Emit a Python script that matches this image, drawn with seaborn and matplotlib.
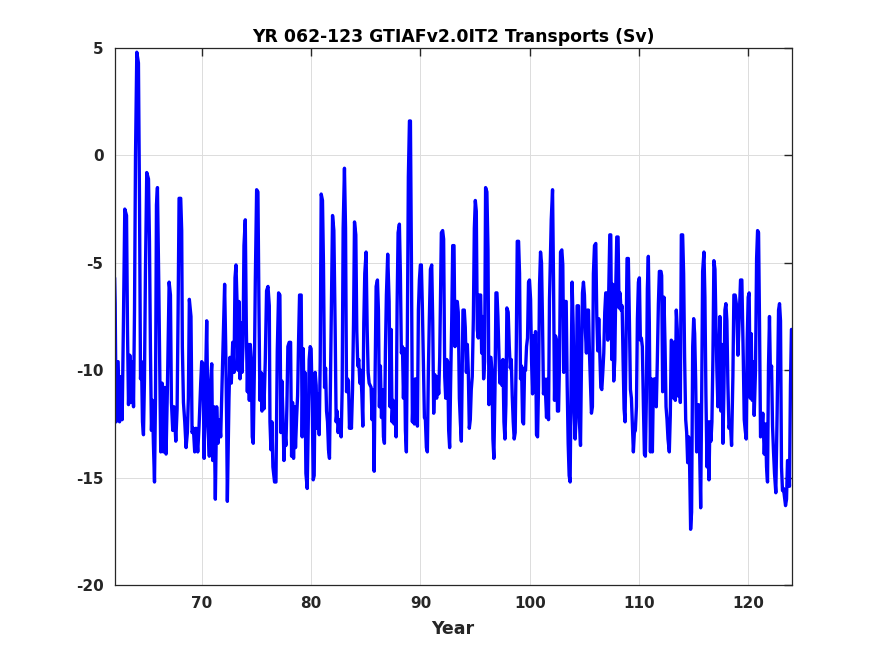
import numpy as np
import pandas as pd
import matplotlib
matplotlib.use("Agg")
import matplotlib.pyplot as plt
import seaborn as sns

# transport series, split into roughly 10-year chunks
yr_62_71 = [62.0, 62.05, 62.14, 62.32, 62.45, 62.57, 62.69, 62.81, 62.93, 63.09, 63.18, 63.27,
            63.39, 63.54, 63.63, 63.73, 63.82, 63.91, 64.03, 64.18, 64.28, 64.37, 64.46, 64.55,
            64.64, 64.73, 64.82, 64.94, 65.10, 65.19, 65.28, 65.37, 65.46, 65.55, 65.65, 65.74,
            65.83, 65.92, 66.04, 66.13, 66.22, 66.35, 66.47, 66.59, 66.71, 66.83, 66.99, 67.11,
            67.20, 67.32, 67.44, 67.60, 67.72, 67.81, 67.90, 68.05, 68.14, 68.20, 68.30, 68.42,
            68.54, 68.66, 68.75, 68.84, 68.99, 69.09, 69.21, 69.33, 69.45, 69.61, 69.73, 69.88,
            69.97, 70.09, 70.19, 70.31, 70.43, 70.55, 70.67, 70.77, 70.89, 70.98, 71.10, 71.22,
            71.34, 71.46, 71.59, 71.71]
sv_62_71 = [-5.7, -6.9, -12.4, -9.6, -12.4, -10.3, -12.3, -7.6, -2.5, -2.8, -8.2, -11.6,
            -9.3, -11.5, -9.6, -11.7, -7.2, -0.1, 4.8, 4.3, -2.3, -10.4, -9.6, -12.4,
            -13.0, -10.5, -5.5, -0.8, -1.1, -4.0, -9.1, -12.8, -11.4, -13.4, -15.2, -11.4,
            -2.3, -1.5, -5.9, -10.0, -13.8, -10.6, -13.8, -10.8, -13.9, -10.9, -5.9, -6.5,
            -11.5, -12.8, -11.7, -13.3, -11.8, -7.3, -2.0, -2.0, -3.5, -8.9, -11.5, -12.4,
            -13.6, -12.9, -11.3, -6.7, -7.5, -12.9, -12.7, -13.8, -12.7, -13.8, -12.6, -10.6,
            -9.6, -9.7, -14.1, -10.9, -7.7, -12.6, -14.0, -10.7, -9.7, -14.2, -11.7, -16.0,
            -11.7, -13.4, -12.3, -13.1]

yr_72_81 = [72.07, 72.17, 72.26, 72.32, 72.47, 72.56, 72.68, 72.81, 72.93, 73.02, 73.11, 73.20,
            73.29, 73.38, 73.48, 73.57, 73.66, 73.75, 73.84, 73.96, 74.06, 74.15, 74.24, 74.33,
            74.42, 74.51, 74.60, 74.69, 74.79, 74.88, 75.00, 75.12, 75.21, 75.30, 75.40, 75.49,
            75.58, 75.67, 75.79, 75.91, 76.04, 76.16, 76.22, 76.31, 76.40, 76.49, 76.64, 76.77,
            76.89, 77.01, 77.13, 77.22, 77.31, 77.41, 77.50, 77.59, 77.68, 77.77, 77.86, 77.98,
            78.11, 78.20, 78.29, 78.38, 78.47, 78.56, 78.66, 78.75, 78.84, 78.93, 79.08, 79.17,
            79.27, 79.36, 79.42, 79.51, 79.63, 79.72, 79.81, 79.90, 79.99, 80.09, 80.18, 80.27,
            80.36, 80.45, 80.54, 80.64, 80.73, 80.82, 80.91, 81.03, 81.12, 81.22, 81.31, 81.40,
            81.49, 81.58, 81.67, 81.76]
sv_72_81 = [-6.0, -8.9, -12.6, -16.1, -11.3, -9.4, -10.6, -8.7, -10.1, -5.7, -5.1, -6.7,
            -10.0, -6.8, -10.4, -7.8, -10.1, -8.9, -4.2, -3.0, -8.1, -11.0, -8.8, -11.4,
            -8.8, -9.5, -13.1, -13.4, -10.1, -5.8, -1.6, -1.7, -6.9, -11.4, -10.1, -11.9,
            -10.2, -11.8, -9.6, -6.3, -6.1, -7.0, -12.4, -13.7, -12.4, -14.5, -15.2, -15.2,
            -9.1, -6.4, -6.5, -12.9, -10.5, -12.1, -14.2, -12.9, -13.5, -11.7, -8.9, -8.7,
            -8.7, -14.0, -11.5, -14.1, -11.7, -13.6, -12.2, -11.2, -8.6, -6.5, -6.5, -13.1,
            -9.0, -12.7, -10.1, -14.8, -15.5, -12.7, -9.5, -8.9, -9.0, -11.5, -15.1, -14.9,
            -10.1, -10.7, -12.7, -11.1, -13.0, -9.6, -1.8, -2.1, -5.1, -10.8, -9.9, -11.9,
            -12.4, -13.7, -14.1, -10.4]

yr_82_91 = [81.95, 82.07, 82.19, 82.28, 82.37, 82.46, 82.56, 82.65, 82.74, 82.83, 82.92, 83.04,
            83.14, 83.23, 83.32, 83.41, 83.50, 83.59, 83.68, 83.78, 83.87, 83.96, 84.08, 84.17,
            84.26, 84.35, 84.45, 84.54, 84.63, 84.72, 84.81, 84.90, 85.02, 85.12, 85.21, 85.30,
            85.39, 85.48, 85.57, 85.66, 85.76, 85.85, 85.94, 86.06, 86.15, 86.24, 86.33, 86.43,
            86.52, 86.61, 86.70, 86.79, 86.88, 87.00, 87.13, 87.22, 87.31, 87.40, 87.49, 87.58,
            87.68, 87.77, 87.86, 87.95, 88.07, 88.16, 88.25, 88.35, 88.44, 88.53, 88.62, 88.71,
            88.80, 88.89, 88.99, 89.08, 89.17, 89.26, 89.35, 89.44, 89.53, 89.62, 89.72, 89.81,
            89.90, 89.99, 90.08, 90.17, 90.27, 90.36, 90.45, 90.54, 90.63, 90.72, 90.81, 90.91,
            91.03, 91.12, 91.21, 91.30, 91.39, 91.48, 91.57, 91.67, 91.76]
sv_82_91 = [-2.8, -3.5, -8.1, -12.4, -11.9, -12.9, -12.3, -12.7, -13.1, -10.9, -3.4, -0.6,
            -3.4, -11.0, -10.4, -10.5, -12.7, -11.9, -12.7, -10.9, -7.8, -3.1, -3.7, -8.2,
            -9.8, -9.5, -10.6, -10.0, -11.1, -12.6, -7.8, -5.5, -4.5, -8.1, -10.1, -10.6,
            -10.7, -10.8, -12.3, -10.9, -14.7, -10.1, -6.1, -5.8, -7.2, -11.7, -9.8, -12.2,
            -10.9, -13.1, -13.4, -9.1, -6.5, -4.6, -6.8, -11.7, -8.1, -12.4, -11.4, -12.5,
            -11.5, -13.1, -7.0, -3.6, -3.2, -5.5, -9.2, -8.9, -11.3, -9.0, -12.8, -13.8,
            -8.1, -1.0, 1.6, 1.6, -4.8, -12.4, -10.9, -12.5, -10.4, -11.5, -12.6, -7.2,
            -5.8, -5.1, -5.1, -7.0, -9.7, -12.2, -12.3, -13.6, -13.8, -10.1, -7.6, -5.3,
            -5.1, -7.7, -12.0, -10.2, -10.3, -11.3, -10.3, -11.1, -9.4]

yr_92_101 = [91.91, 92.03, 92.12, 92.22, 92.31, 92.40, 92.49, 92.58, 92.67, 92.76, 92.86, 92.95,
             93.07, 93.16, 93.25, 93.37, 93.46, 93.56, 93.65, 93.74, 93.83, 93.89, 94.01, 94.10,
             94.20, 94.29, 94.38, 94.47, 94.56, 94.65, 94.74, 94.84, 94.93, 95.02, 95.11, 95.20,
             95.29, 95.38, 95.51, 95.60, 95.69, 95.78, 95.87, 95.96, 96.08, 96.18, 96.27, 96.36,
             96.45, 96.54, 96.63, 96.72, 96.82, 96.91, 97.00, 97.09, 97.18, 97.27, 97.36, 97.46,
             97.55, 97.64, 97.73, 97.82, 97.91, 98.03, 98.13, 98.22, 98.31, 98.40, 98.49, 98.58,
             98.67, 98.77, 98.86, 98.98, 99.07, 99.16, 99.25, 99.35, 99.44, 99.53, 99.62, 99.71,
             99.80, 99.89, 99.98, 100.08, 100.17, 100.26, 100.35, 100.44, 100.53, 100.62, 100.72,
             100.81, 100.90, 100.99, 101.08, 101.17, 101.26, 101.36, 101.45, 101.54, 101.63,
             101.72, 101.81]
sv_92_101 = [-3.6, -3.5, -3.9, -10.3, -11.3, -9.5, -9.6, -12.8, -13.6, -10.6, -7.7, -4.2,
             -4.2, -8.9, -6.8, -6.8, -7.3, -11.3, -12.4, -13.3, -9.6, -7.2, -7.2, -8.0,
             -10.1, -8.8, -10.1, -12.7, -12.3, -10.9, -10.3, -7.6, -3.4, -2.1, -2.6, -8.1,
             -8.5, -6.5, -6.5, -9.2, -7.5, -10.4, -9.6, -1.5, -1.7, -4.4, -11.6, -9.4,
             -9.4, -10.0, -13.2, -14.1, -10.9, -6.4, -6.4, -7.5, -9.2, -10.6, -9.6, -10.7,
             -9.5, -12.4, -13.2, -11.6, -7.1, -7.3, -8.9, -9.9, -9.5, -11.2, -12.4, -13.2,
             -12.9, -8.9, -4.0, -4.0, -5.5, -10.4, -9.8, -12.4, -12.5, -9.9, -10.0, -8.9,
             -8.5, -5.9, -5.8, -6.7, -9.6, -11.1, -8.4, -11.0, -8.2, -13.0, -13.1,
             -10.7, -6.0, -4.5, -5.0, -7.7, -11.1, -10.4, -11.1, -12.2, -10.4,
             -12.3, -6.7]

yr_102_111 = [101.97, 102.09, 102.18, 102.27, 102.36, 102.45, 102.54, 102.64, 102.73, 102.82,
              102.94, 103.03, 103.12, 103.21, 103.34, 103.43, 103.52, 103.61, 103.70, 103.79,
              103.88, 103.98, 104.07, 104.16, 104.25, 104.34, 104.46, 104.55, 104.65, 104.74,
              104.83, 104.92, 105.01, 105.10, 105.19, 105.29, 105.38, 105.47, 105.56, 105.65,
              105.74, 105.83, 105.93, 106.05, 106.14, 106.23, 106.32, 106.41, 106.51, 106.60,
              106.69, 106.78, 106.87, 106.96, 107.05, 107.15, 107.24, 107.33, 107.42, 107.51,
              107.60, 107.69, 107.79, 107.88, 107.97, 108.09, 108.18, 108.27, 108.36, 108.46,
              108.55, 108.64, 108.73, 108.82, 108.91, 109.03, 109.13, 109.22, 109.31, 109.40,
              109.49, 109.58, 109.67, 109.77, 109.86, 109.95, 110.04, 110.13, 110.22, 110.31,
              110.41, 110.50, 110.59, 110.68, 110.77, 110.86, 110.95, 111.05, 111.14, 111.23,
              111.32, 111.41, 111.50, 111.59, 111.68, 111.78, 111.87]
sv_102_111 = [-3.0, -1.6, -5.8, -11.4, -8.4, -8.6, -11.9, -11.9, -9.6, -4.5,
              -4.4, -5.1, -10.1, -6.8, -6.8, -10.7, -13.4, -14.9, -15.2, -10.7,
              -5.9, -7.9, -12.0, -13.2, -12.1, -7.0, -7.0, -12.4, -13.5, -9.6,
              -6.4, -5.9, -6.5, -8.2, -9.2, -7.2, -7.2, -9.2, -10.6, -12.0,
              -11.7, -5.5, -4.2, -4.1, -7.5, -9.1, -7.6, -9.1, -10.8, -10.9,
              -10.1, -9.2, -7.3, -6.4, -6.4, -8.6, -6.1, -3.7, -3.7, -9.5,
              -6.0, -10.5, -9.5, -6.1, -3.8, -3.8, -7.1, -6.4, -7.2, -7.0,
              -9.6, -11.8, -12.4, -8.7, -4.8, -4.8, -7.8, -10.9, -11.3, -12.6,
              -13.8, -12.9, -12.8, -11.7, -7.6, -5.9, -5.7, -8.6, -8.5, -8.9,
              -11.7, -13.9, -14.0, -11.3, -6.2, -4.7, -7.8, -13.8, -10.4, -13.8,
              -10.7, -10.4, -10.4, -11.7, -9.6, -6.9, -5.4]

yr_112_124 = [112.02, 112.08, 112.17, 112.29, 112.39, 112.48, 112.57, 112.66, 112.78, 112.87,
              112.96, 113.09, 113.18, 113.27, 113.33, 113.42, 113.51, 113.60, 113.70, 113.79,
              113.88, 114.00, 114.09, 114.18, 114.28, 114.37, 114.46, 114.55, 114.64, 114.73,
              114.82, 114.92, 115.01, 115.10, 115.19, 115.28, 115.37, 115.46, 115.56, 115.65,
              115.74, 115.83, 115.95, 116.04, 116.13, 116.23, 116.32, 116.41, 116.50, 116.59,
              116.68, 116.77, 116.86, 116.96, 117.05, 117.14, 117.23, 117.32, 117.41, 117.50,
              117.60, 117.69, 117.78, 117.87, 117.96, 118.05, 118.14, 118.24, 118.36, 118.48,
              118.60, 118.69, 118.81, 118.94, 119.06, 119.30, 119.42, 119.55, 119.64, 119.73,
              119.82, 119.91, 120.00, 120.09, 120.19, 120.28, 120.37, 120.46, 120.55, 120.67,
              120.77, 120.86, 120.95, 121.04, 121.13, 121.22, 121.34, 121.47, 121.59, 121.68,
              121.77, 121.86, 121.95, 122.04, 122.14, 122.23, 122.32, 122.41, 122.53, 122.65,
              122.78, 122.87, 122.96, 123.05, 123.14, 123.23, 123.32, 123.42, 123.51, 123.60,
              123.69, 123.78, 123.87, 123.96]
sv_112_124 = [-5.4, -5.6, -11.0, -6.6, -8.9, -11.7, -12.3, -13.2, -13.8, -12.1,
              -8.6, -8.7, -11.3, -8.7, -11.4, -7.2, -8.1, -11.2, -9.1, -11.5,
              -3.7, -3.7, -5.5, -9.4, -12.3, -12.9, -14.3, -13.1, -14.5, -17.4,
              -16.6, -8.9, -7.6, -8.3, -10.4, -13.8, -11.7, -11.6, -13.9, -16.4,
              -11.4, -5.4, -4.5, -6.6, -11.1, -14.5, -12.4, -15.1, -12.4, -13.3,
              -12.4, -9.5, -4.9, -5.3, -7.9, -10.1, -11.7, -9.5, -7.5, -11.9,
              -8.8, -13.4, -10.9, -7.2, -6.9, -7.7, -10.6, -12.7, -12.4, -13.5,
              -10.3, -6.5, -6.5, -7.0, -9.3, -5.8, -5.8, -9.4, -12.3, -12.8,
              -13.2, -8.6, -6.6, -6.4, -11.3, -8.3, -11.4, -9.6, -12.1, -10.0,
              -4.8, -3.5, -3.6, -7.9, -13.1, -12.9, -12.0, -13.9, -12.5, -14.5,
              -15.2, -9.8, -7.5, -10.3, -9.8, -12.6, -13.8, -14.8, -15.7, -12.0,
              -7.2, -6.9, -7.7, -14.5, -15.6, -15.5, -15.9, -16.3, -16.0, -14.2,
              -14.3, -15.4, -10.7, -8.1]

x_ticks = [70, 80, 90, 100, 110, 120]
y_ticks = [-20, -15, -10, -5, 0, 5]

df = pd.DataFrame({
    "Year": yr_62_71 + yr_72_81 + yr_82_91 + yr_92_101 + yr_102_111 + yr_112_124,
    "Transport": sv_62_71 + sv_72_81 + sv_82_91 + sv_92_101 + sv_102_111 + sv_112_124,
})

sns.set_style("white")
plt.rcParams["font.family"] = ["DejaVu Sans"]
plt.rcParams["axes.unicode_minus"] = False

fig = plt.figure(figsize=(8.75, 6.56), dpi=100)
ax = fig.add_axes([0.131, 0.108, 0.774, 0.819])

sns.lineplot(data=df, x="Year", y="Transport", ax=ax, color=(0, 0, 1),
             linewidth=2.4, estimator=None, sort=False)

ax.set_xlim(62, 124)
ax.set_ylim(-20, 5)
ax.set_xticks(x_ticks)
ax.set_yticks(y_ticks)
ax.grid(True, color="#dcdcdc", linewidth=0.7)
ax.set_axisbelow(True)
ax.tick_params(direction="in", length=6, width=1, top=True, right=True,
               colors="#262626", labelsize=11, pad=8)
for lab in ax.get_xticklabels() + ax.get_yticklabels():
    lab.set_fontweight("bold")
for sp in ax.spines.values():
    sp.set_color("#262626")
    sp.set_linewidth(0.9)

ax.set_title("YR 062-123 GTIAFv2.0IT2 Transports (Sv)", fontsize=12.4,
             fontweight="bold", color="black", pad=4)
ax.set_xlabel("Year", fontsize=12.5, fontweight="bold", color="#262626", labelpad=6)
ax.set_ylabel("")

fig.savefig("out.png", dpi=100)
